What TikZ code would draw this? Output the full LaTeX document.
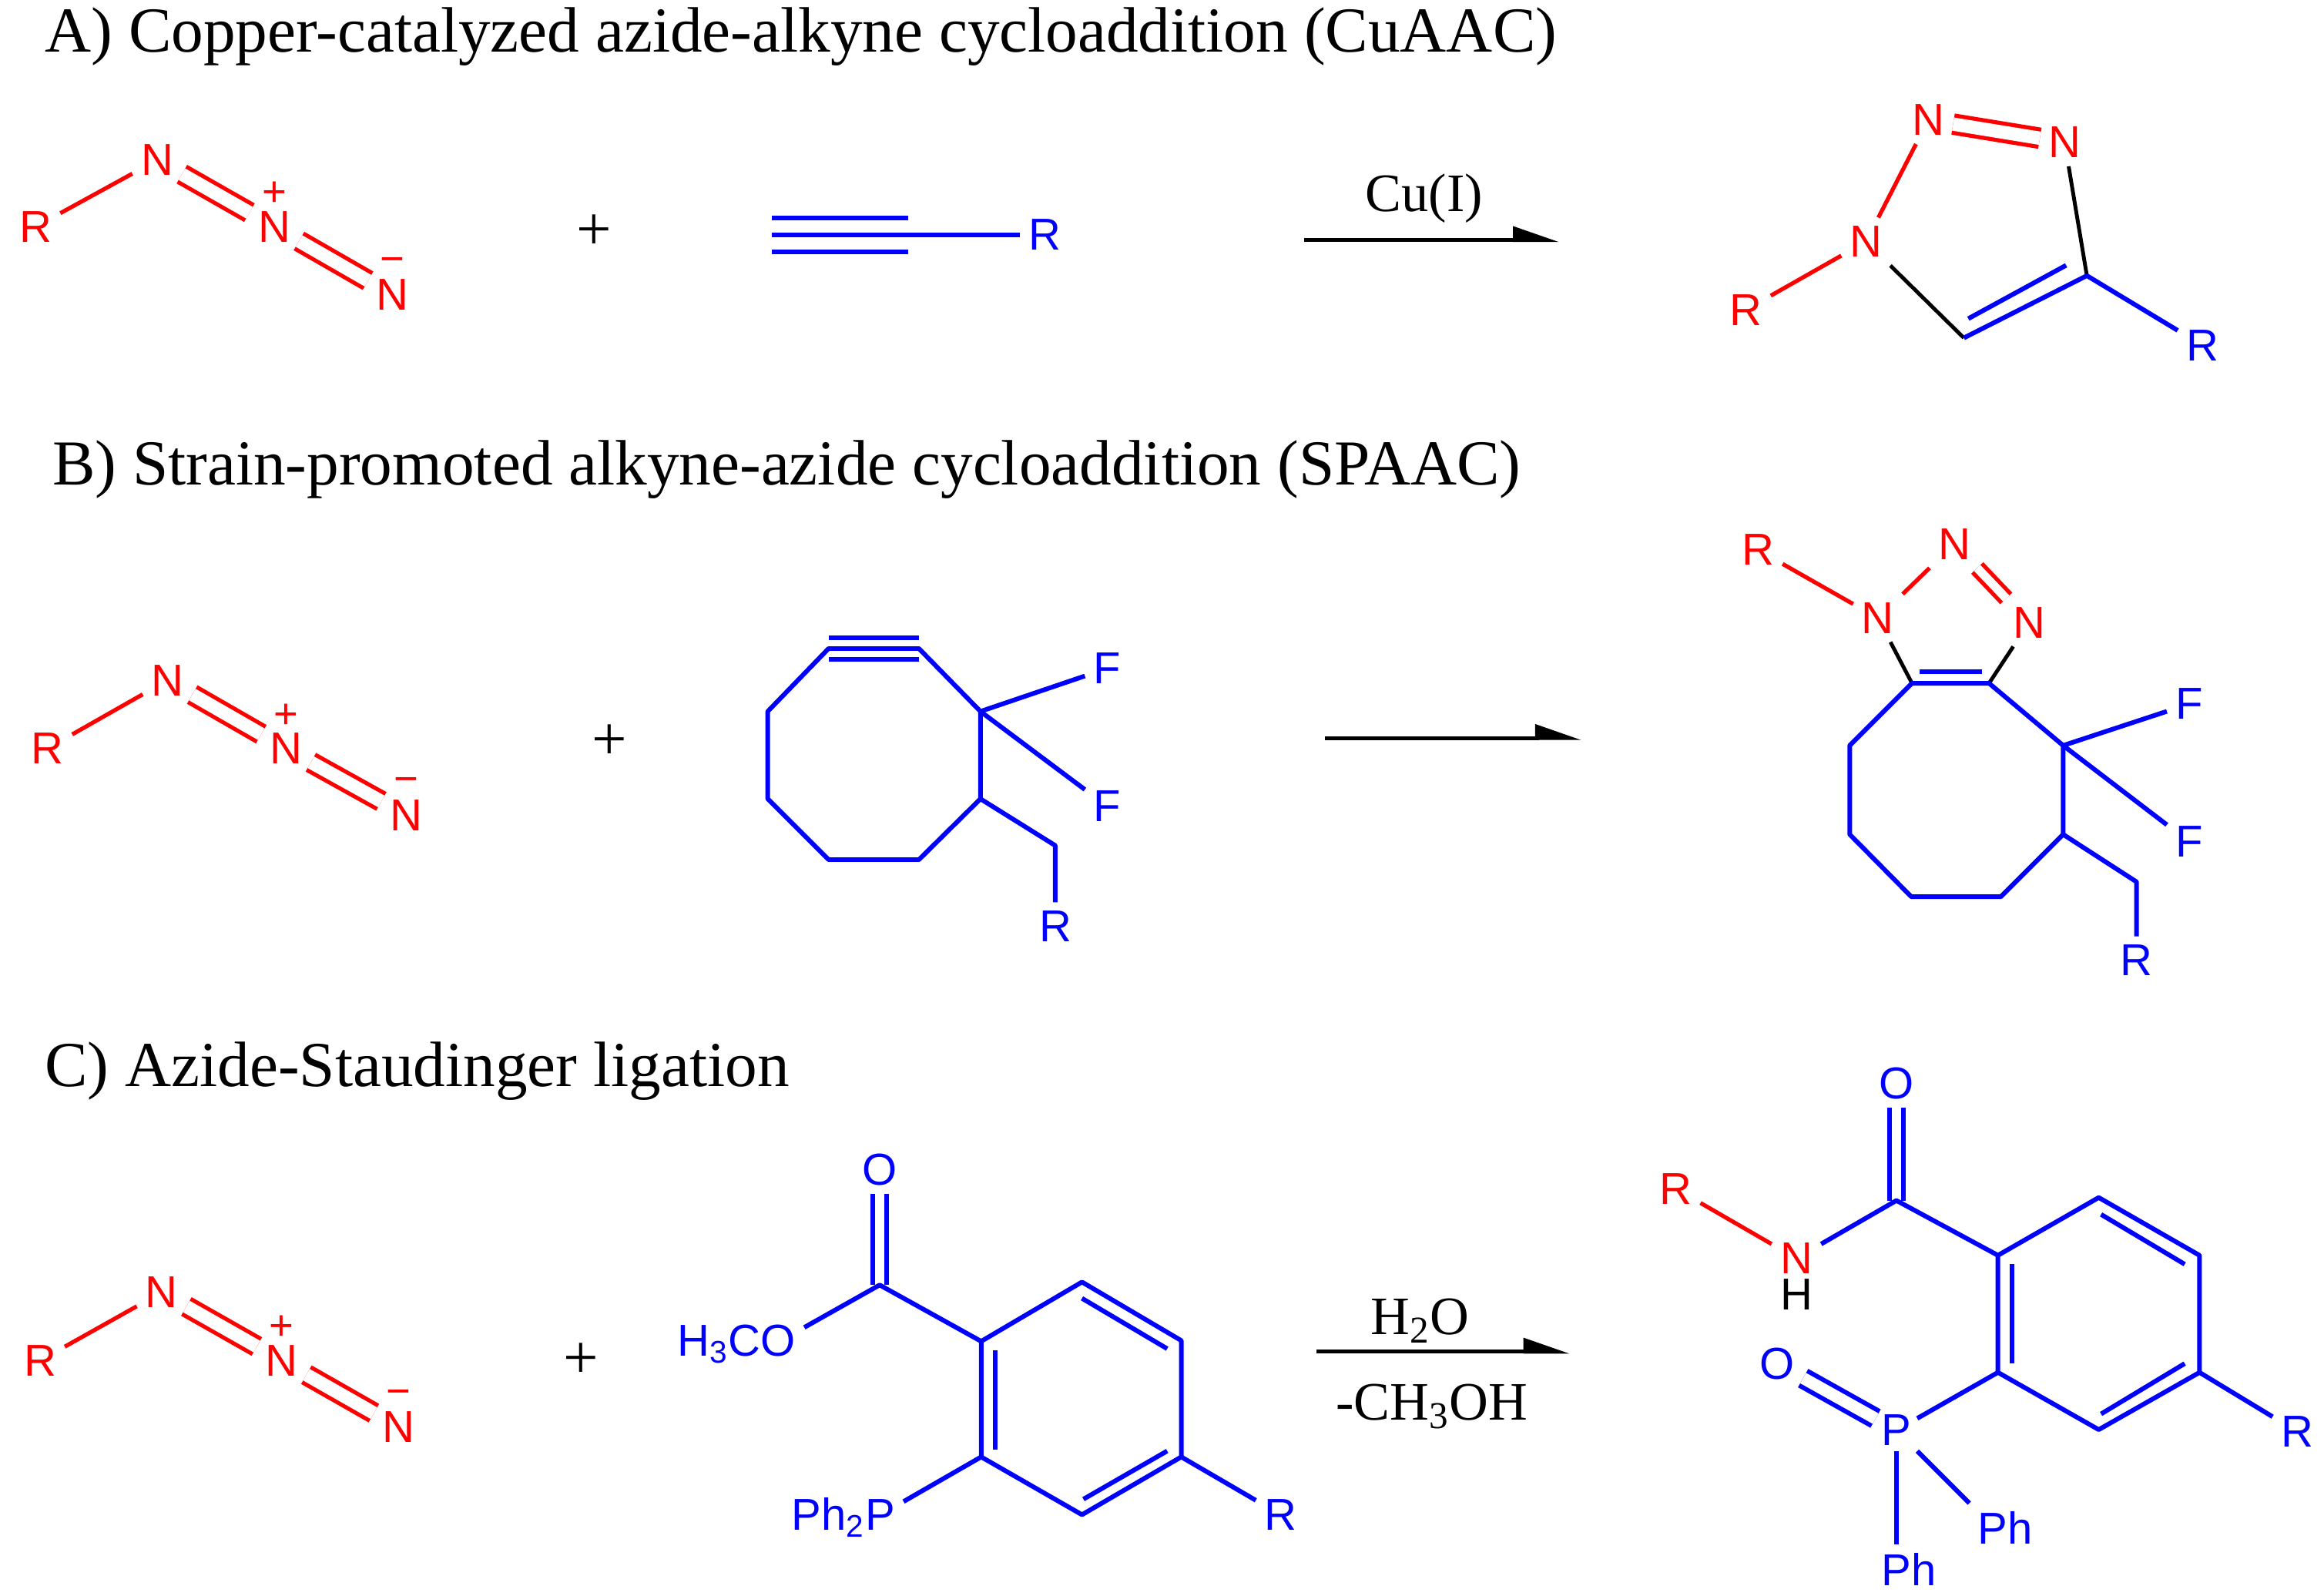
\documentclass[tikz,border=0pt]{standalone}
\usepackage{fontspec}
\setmainfont{Liberation Serif}
\newfontfamily\atomfont{Liberation Sans}
\usetikzlibrary{arrows.meta,positioning}

\begin{document}
\begin{tikzpicture}[x=0.01924cm,y=-0.01924cm,>={Stealth[harpoon,length=15pt,width=10pt,inset=0pt]},auto,
	heading/.style={anchor=base west,inner sep=0pt,font=\fontsize{23.68}{28}\selectfont},
	rxn/.style={inner sep=0pt,font=\fontsize{20}{24}\selectfont},
	addsign/.style={inner sep=0pt,font=\fontsize{23}{25}\selectfont},
	atom/.style={inner sep=3pt,on grid,font=\atomfont\fontsize{16.5}{18}\selectfont},
	redatom/.style={atom,text=red},
	blueatom/.style={atom,text=blue},
	chg/.style={inner sep=0pt,on grid,text=red,font=\atomfont\fontsize{15.5}{18}\selectfont},
	redbond/.style={draw=red,line width=1.5pt},
	bluebond/.style={draw=blue,line width=1.7pt,line join=round},
	blackbond/.style={draw=black,line width=1.4pt},
	dbl/.style={double,double distance=#1},
	dbl/.default=4.9pt,
	rxnarrow/.style={line width=1.4pt}]
	\useasboundingbox (0,0) rectangle (1568,1076.4);

	\node[heading] (ta) at (30,35) {A) Copper-catalyzed azide-alkyne cycloaddition (CuAAC)};
	\node[heading] (tb) at (35,327) {B) Strain-promoted alkyne-azide cycloaddition (SPAAC)};
	\node[heading] (tc) at (30,733) {C) Azide-Staudinger ligation};

	\node[redatom] (ar)  at (24,153)  {R};
	\node[redatom] (an1) at (106,108) {N};
	\node[redatom] (an2) at (185,153) {N};
	\node[redatom] (an3) at (265,199) {N};
	\node[chg]     (ap)  [above=12pt of an2] {+};
	\node[chg]     (am)  [above=11pt of an3] {−};
	\path[redbond] (ar) edge (an1);
	\draw[redbond,dbl] (an1) -- (an2);
	\draw[redbond,dbl] (an2) -- (an3);
	\node[addsign] (aplus) at (401,157) {+};

	\coordinate (ac1) at (521,158.5);
	\coordinate (ac2) at (613,158.5);
	\node[blueatom] (ar2) at (705,158.5) {R};
	\draw[bluebond,dbl=10.7pt] (ac1) -- (ac2);
	\draw[bluebond] (ac1) -- (ar2);

	\coordinate (aa1) at (880,162);
	\coordinate (aa2) at (1052,162);
	\path[->,rxnarrow] (aa1) edge (aa2);
	\node[rxn] (acu) at (961,134) {Cu(I)};

	\node[redatom]  (pn1) at (1259,163) {N};
	\node[redatom]  (pn2) at (1301,81)  {N};
	\node[redatom]  (pn3) at (1393,96)  {N};
	\node[redatom]  (pr1) at (1178,209) {R};
	\node[blueatom] (pr2) at (1486,233) {R};
	\coordinate (pc4) at (1408,186);
	\coordinate (pc5) at (1325,228);
	\coordinate (pd1) at (1328,215);
	\coordinate (pd2) at (1394,179);
	\path[redbond] (pr1) edge (pn1) (pn1) edge (pn2);
	\draw[redbond,dbl] (pn2) -- (pn3);
	\path[blackbond] (pn3) edge (pc4) (pn1) edge (pc5);
	\draw[bluebond] (pc5) -- (pc4) -- (pr2);
	\draw[bluebond] (pd1) -- (pd2);

	\node[redatom] (br)  at (32,505)  {R};
	\node[redatom] (bn1) at (113,459) {N};
	\node[redatom] (bn2) at (193,505) {N};
	\node[redatom] (bn3) at (274,550) {N};
	\node[chg]     (bp)  [above=12pt of bn2] {+};
	\node[chg]     (bm)  [above=11pt of bn3] {−};
	\path[redbond] (br) edge (bn1);
	\draw[redbond,dbl] (bn1) -- (bn2);
	\draw[redbond,dbl] (bn2) -- (bn3);
	\node[addsign] (bplus) at (411,501) {+};

	\coordinate (b1) at (559,437.6);
	\coordinate (b2) at (620,437.6);
	\coordinate (b3) at (661.5,480);
	\coordinate (b4) at (661.5,539);
	\coordinate (b5) at (620,580);
	\coordinate (b6) at (559,580);
	\coordinate (b7) at (518,539);
	\coordinate (b8) at (518,480);
	\coordinate (b9) at (712,570.5);
	\node[blueatom] (bf1) at (747,451) {F};
	\node[blueatom] (bf2) at (747,544) {F};
	\node[blueatom] (br2) at (712,625) {R};
	\draw[bluebond,dbl=6.1pt] (b1) -- (b2);
	\draw[bluebond] (b1) -- (b2) -- (b3) -- (b4) -- (b5) -- (b6) -- (b7) -- (b8) -- cycle;
	\draw[bluebond] (b4) -- (b9) -- (br2);
	\draw[bluebond] (b3) -- (bf1);
	\draw[bluebond] (b3) -- (bf2);

	\coordinate (ba1) at (894,498);
	\coordinate (ba2) at (1067,498);
	\path[->,rxnarrow] (ba1) edge (ba2);

	\node[redatom] (qr)  at (1186,371) {R};
	\node[redatom] (qn1) at (1267,417) {N};
	\node[redatom] (qn2) at (1318.6,367) {N};
	\node[redatom] (qn3) at (1369,420) {N};
	\coordinate (q1) at (1290,461);
	\coordinate (q2) at (1342,461);
	\coordinate (q3) at (1392,503);
	\coordinate (q4) at (1392,563);
	\coordinate (q5) at (1350,605);
	\coordinate (q6) at (1289.5,605);
	\coordinate (q7) at (1248,563);
	\coordinate (q8) at (1248,503);
	\coordinate (q9) at (1441.5,595);
	\coordinate (qd1) at (1295,453);
	\coordinate (qd2) at (1337,453);
	\node[blueatom] (qf1) at (1477,475) {F};
	\node[blueatom] (qf2) at (1477,568) {F};
	\node[blueatom] (qr2) at (1441.5,648) {R};
	\path[redbond] (qr) edge (qn1) (qn1) edge (qn2);
	\draw[redbond,dbl=3.2pt] (qn2) -- (qn3);
	\path[blackbond] (qn1) edge (q1) (qn3) edge (q2);
	\draw[bluebond] (q1) -- (q2) -- (q3) -- (q4) -- (q5) -- (q6) -- (q7) -- (q8) -- cycle;
	\draw[bluebond] (qd1) -- (qd2);
	\draw[bluebond] (q4) -- (q9) -- (qr2);
	\draw[bluebond] (q3) -- (qf1);
	\draw[bluebond] (q3) -- (qf2);

	\node[redatom] (cr)  at (27,918)  {R};
	\node[redatom] (cn1) at (109,872) {N};
	\node[redatom] (cn2) at (190,918) {N};
	\node[redatom] (cn3) at (269,963) {N};
	\node[chg]     (cp)  [above=12pt of cn2] {+};
	\node[chg]     (cm)  [above=11pt of cn3] {−};
	\path[redbond] (cr) edge (cn1);
	\draw[redbond,dbl] (cn1) -- (cn2);
	\draw[redbond,dbl] (cn2) -- (cn3);
	\node[addsign] (cplus) at (392,918) {+};

	\coordinate (co) at (593.5,867);
	\coordinate (c1) at (662,905);
	\coordinate (c2) at (730,865);
	\coordinate (c3) at (797,904.5);
	\coordinate (c4) at (797,983);
	\coordinate (c5) at (730,1022);
	\coordinate (c6) at (662,983);
	\coordinate (cd1) at (671.6,911);
	\coordinate (cd2) at (671.6,978);
	\coordinate (cd3) at (730,876);
	\coordinate (cd4) at (787.5,910);
	\coordinate (cd5) at (787.5,979);
	\coordinate (cd6) at (731,1011.5);
	\node[blueatom] (co1) at (593.5,789) {O};
	\node[blueatom] (cme) at (497,907) {H\textsubscript{3}CO};
	\node[blueatom] (cph) at (569,1024) {Ph\textsubscript{2}P};
	\node[blueatom] (cr2) at (864,1022) {R};
	\draw[bluebond,dbl=3.4pt] (co) -- (co1);
	\draw[bluebond] (cme.14) -- (co) -- (c1);
	\draw[bluebond] (c1) -- (c2) -- (c3) -- (c4) -- (c5) -- (c6) -- cycle;
	\draw[bluebond] (cd1) -- (cd2);
	\draw[bluebond] (cd3) -- (cd4);
	\draw[bluebond] (cd5) -- (cd6);
	\draw[bluebond] (c6) -- (cph.15);
	\draw[bluebond] (c4) -- (cr2);

	\coordinate (ca1) at (888,912);
	\coordinate (ca2) at (1059,912);
	\path[->,rxnarrow] (ca1) edge (ca2);
	\node[rxn] (cw) at (958,891) {H\textsubscript{2}O};
	\node[rxn] (cm1) at (966,949) {-CH\textsubscript{3}OH};

	\node[redatom]  (sr)  at (1130.6,802) {R};
	\node[redatom]  (sn)  at (1212,849) {N};
	\node[atom,inner sep=0pt] (sh) [below=13.5pt of sn] {H};
	\node[blueatom] (so1) at (1279.5,731) {O};
	\node[blueatom] (so2) at (1199,920) {O};
	\node[blueatom,inner sep=2pt] (sp) at (1279.5,965) {P};
	\node[blueatom] (sph1) at (1353,1031) {Ph};
	\node[blueatom] (sph2) at (1288,1059) {Ph};
	\node[blueatom] (sr2) at (1550,966) {R};
	\coordinate (so) at (1279.5,810);
	\coordinate (s1) at (1348,847);
	\coordinate (s2) at (1416,808);
	\coordinate (s3) at (1484,847);
	\coordinate (s4) at (1484,926);
	\coordinate (s5) at (1416,964.6);
	\coordinate (s6) at (1348,926);
	\coordinate (sd1) at (1357.3,853);
	\coordinate (sd2) at (1357.3,920);
	\coordinate (sd3) at (1417.6,819.4);
	\coordinate (sd4) at (1474,853);
	\coordinate (sd5) at (1474,920);
	\coordinate (sd6) at (1417.6,954);
	\path[redbond] (sr) edge (sn);
	\draw[bluebond,dbl=3.4pt] (so) -- (so1);
	\draw[bluebond] (sn) -- (so) -- (s1);
	\draw[bluebond] (s1) -- (s2) -- (s3) -- (s4) -- (s5) -- (s6) -- cycle;
	\draw[bluebond] (sd1) -- (sd2);
	\draw[bluebond] (sd3) -- (sd4);
	\draw[bluebond] (sd5) -- (sd6);
	\draw[bluebond] (s4) -- (sr2);
	\draw[bluebond] (s6) -- (sp);
	\draw[bluebond,dbl=4.4pt] (sp) -- (so2);
	\draw[bluebond] (sp) -- (sph1.north west);
	\draw[bluebond] (sp) -- (sp |- sph2.north);
\end{tikzpicture}
\end{document}
